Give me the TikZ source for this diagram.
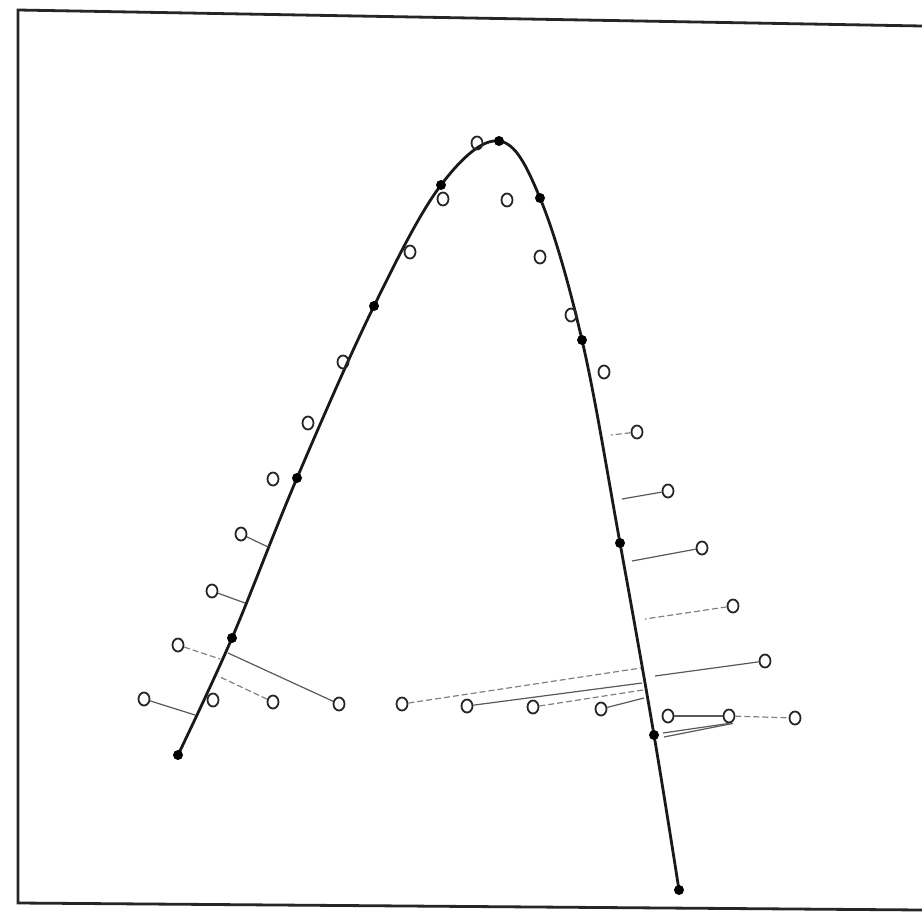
\documentclass[tikz,border=0pt]{standalone}
\usetikzlibrary{shapes.geometric}
\begin{document}
\begin{tikzpicture}[x=1pt,y=-1pt,
  frame/.style={line width=2.8pt,draw=black!85},
  curve/.style={line width=2.8pt,draw=black!90},
  obs/.style={ellipse,draw=black!85,line width=1.8pt,minimum width=11pt,minimum height=13pt,inner sep=0pt},
  fit/.style={circle,fill=black,inner sep=0pt,minimum size=10pt},
  res/.style={line width=1.2pt,draw=black!65},
  resd/.style={line width=1.2pt,draw=black!50,dash pattern=on 6pt off 3pt}]
\useasboundingbox (0,0) rectangle (922,921);
\fill[white] (0,0) rectangle (922,921);
% frame
\draw[frame] (922,26) -- (18,10) -- (18,903) -- (922,910);
% fitted points
\coordinate (p1) at (178,755);
\coordinate (p2) at (232,638);
\coordinate (p3) at (297,478);
\coordinate (p4) at (374,306);
\coordinate (p5) at (441,185);
\coordinate (p6) at (499,141);
\coordinate (p7) at (540,198);
\coordinate (p8) at (582,340);
\coordinate (p9) at (620,543);
\coordinate (p10) at (654,735);
\coordinate (p11) at (679,890);
\draw[curve] plot[smooth,tension=0.6] coordinates {(p1) (p2) (p3) (p4) (p5) (p6) (p7) (p8) (p9) (p10) (p11)};
\foreach \i in {1,...,11} \node[fit] (f\i) at (p\i) {};
% observed points, left branch
\node[obs] (o1) at (477,143) {};
\node[obs] (o2) at (443,199) {};
\node[obs] (o3) at (410,252) {};
\node[obs] (o4) at (343,362) {};
\node[obs] (o5) at (308,423) {};
\node[obs] (o6) at (273,479) {};
\node[obs] (o7) at (241,534) {};
\node[obs] (o8) at (212,591) {};
\node[obs] (o9) at (178,645) {};
\node[obs] (o10) at (144,699) {};
\node[obs] (o11) at (213,700) {};
\node[obs] (o12) at (273,702) {};
\node[obs] (o13) at (339,704) {};
% bottom row
\node[obs] (o14) at (402,704) {};
\node[obs] (o15) at (467,706) {};
\node[obs] (o16) at (533,707) {};
\node[obs] (o17) at (601,709) {};
\node[obs] (o18) at (668,716) {};
\node[obs] (o19) at (729,716) {};
\node[obs] (o20) at (795,718) {};
% right branch
\node[obs] (o21) at (507,200) {};
\node[obs] (o22) at (540,257) {};
\node[obs] (o23) at (571,315) {};
\node[obs] (o24) at (604,372) {};
\node[obs] (o25) at (637,432) {};
\node[obs] (o26) at (668,491) {};
\node[obs] (o27) at (702,548) {};
\node[obs] (o28) at (733,606) {};
\node[obs] (o29) at (765,661) {};
% residual feet on the curve
\coordinate (c10) at (195,715);
\coordinate (c9) at (220,659);
\coordinate (c13) at (228,653);
\coordinate (c12) at (218,676);
\coordinate (c7) at (268,547);
\coordinate (c8) at (245,603);
\coordinate (c25) at (611,435);
\coordinate (c26) at (622,499);
\coordinate (c27) at (632,561);
\coordinate (c28) at (645,619);
\coordinate (c29) at (655,676);
\coordinate (c14) at (641,668);
\coordinate (c15) at (642,683);
\coordinate (c16) at (643,690);
\coordinate (c17) at (644,698);
\coordinate (c19) at (663,733);
\coordinate (c20) at (664,737);
% residual lines
\draw[res] (o10) -- (c10);
\draw[resd] (o9) -- (c9);
\draw[res] (o13) -- (c13);
\draw[resd] (o12) -- (c12);
\draw[res] (o7) -- (c7);
\draw[res] (o8) -- (c8);
\draw[resd] (o25) -- (c25);
\draw[res] (o26) -- (c26);
\draw[res] (o27) -- (c27);
\draw[resd] (o28) -- (c28);
\draw[res] (o29) -- (c29);
\draw[resd] (o14) -- (c14);
\draw[res] (o15) -- (c15);
\draw[resd] (o16) -- (c16);
\draw[res] (o17) -- (c17);
\draw[res] (o18) -- (o19);
\draw[resd] (o19) -- (o20);
\draw[res] (c19) -- (o19.south);
\draw[res] (c20) -- ([xshift=4pt]o19.south);
\end{tikzpicture}
\end{document}
